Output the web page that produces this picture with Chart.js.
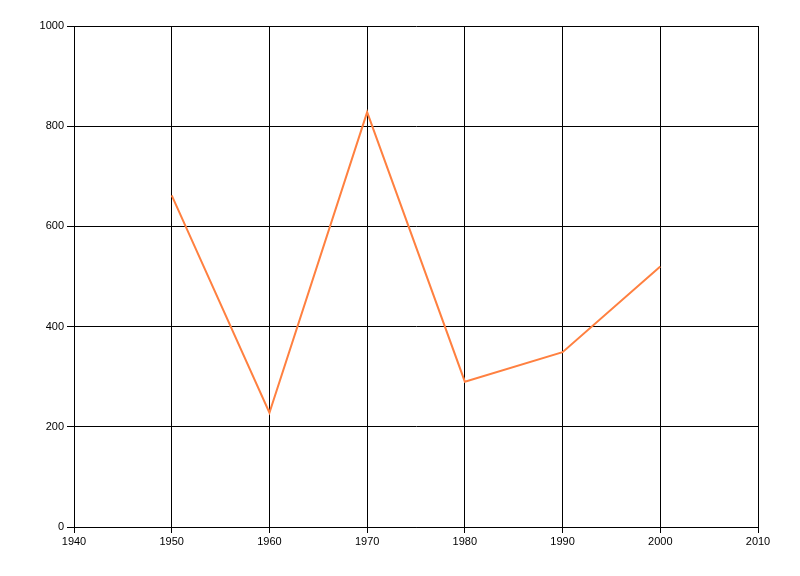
<!DOCTYPE html>
<html>
<head>
<meta charset="utf-8">
<script src="https://cdn.jsdelivr.net/npm/chart.js@4"></script>
<style>
html,body{margin:0;padding:0;background:#fff;}
#wrap{width:800px;height:576px;}
</style>
</head>
<body>
<div id="wrap"><canvas id="c" width="800" height="576"></canvas></div>
<script>
const years = [1950, 1960, 1970, 1980, 1990, 2000];
const values = [662, 228, 828, 290, 349, 520];
const xMin = 1940, xMax = 2010, xStep = 10;
const yMin = 0, yMax = 1000, yStep = 200;

const points = years.map((y, i) => ({x: y, y: values[i]}));

new Chart(document.getElementById('c'), {
  type: 'line',
  data: {
    datasets: [{
      data: points,
      borderColor: 'rgb(255,128,64)',
      borderWidth: 2,
      pointRadius: 0,
      tension: 0,
      fill: false
    }]
  },
  options: {
    responsive: false,
    animation: false,
    devicePixelRatio: 1,
    layout: {padding: {left: 0, right: 42, top: 26, bottom: 0}},
    plugins: {legend: {display: false}, tooltip: {enabled: false}},
    scales: {
      x: {
        type: 'linear',
        min: xMin, max: xMax,
        afterFit: s => { s.height = 49; },
        ticks: {stepSize: xStep, color: '#000', font: {family: 'Liberation Sans', size: 11}, padding: 2, maxRotation: 0,
          callback: v => String(v)},
        grid: {color: '#000', lineWidth: 1, tickLength: 6, drawTicks: true},
        border: {color: '#000', width: 1}
      },
      y: {
        min: yMin, max: yMax,
        afterFit: s => { s.width = 74; },
        ticks: {stepSize: yStep, color: '#000', font: {family: 'Liberation Sans', size: 11}, padding: 3,
          callback: v => String(v)},
        grid: {color: '#000', lineWidth: 1, tickLength: 7, drawTicks: true},
        border: {color: '#000', width: 1}
      }
    }
  }
});
</script>
</body>
</html>
